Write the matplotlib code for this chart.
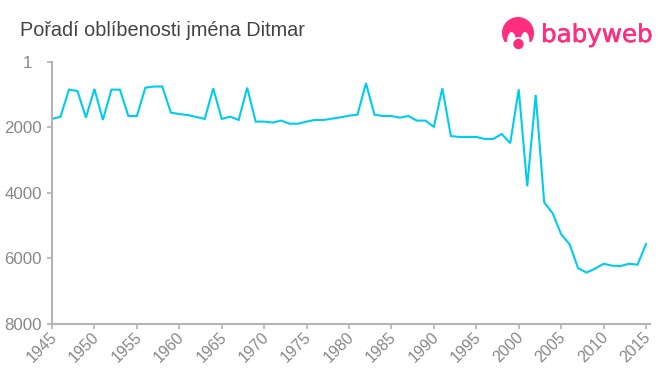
import matplotlib
matplotlib.use("Agg")
import matplotlib.pyplot as plt
from matplotlib.patches import Circle, Ellipse, Rectangle
from matplotlib.transforms import ScaledTranslation
import matplotlib.patheffects as pe

title = "Pořadí oblíbenosti jména Ditmar"
years = list(range(1945, 2016))
ranks = [1740, 1670, 845, 885, 1700, 825, 1770, 845, 845, 1650,
         1650, 785, 750, 750, 1545, 1590, 1620, 1680, 1740, 805,
         1740, 1670, 1770, 785, 1820, 1820, 1850, 1790, 1885, 1885,
         1820, 1770, 1770, 1730, 1690, 1640, 1610, 650, 1610, 1650,
         1650, 1700, 1650, 1790, 1790, 1980, 805, 2260, 2290, 2290,
         2290, 2350, 2350, 2200, 2480, 835, 3795, 1007, 4285, 4620,
         5260, 5570, 6300, 6430, 6310, 6160, 6220, 6230, 6160, 6190,
         5560]
y_ticks = [1, 2000, 4000, 6000, 8000]
x_ticks = list(range(1945, 2016, 5))

W, H = 660, 375
plt.rcParams["font.family"] = ["Liberation Sans", "DejaVu Sans"]
fig = plt.figure(figsize=(W / 100, H / 100), dpi=100)
left, right, top, bottom = 52, 650, 62, 324
ax = fig.add_axes([left / W, 1 - bottom / H, (right - left) / W, (bottom - top) / H])
ax.plot(years, ranks, color="#00ccee", lw=1.5, solid_joinstyle="miter")
ax.set_xlim(1945, 1945 + (right - left) / 8.486)
ax.set_ylim(8000, 1)
for s in ("top", "right"):
    ax.spines[s].set_visible(False)
for s in ("left", "bottom"):
    ax.spines[s].set_color("#b3b3b3")
    ax.spines[s].set_linewidth(1.5)
ax.set_yticks(y_ticks)
ax.set_yticklabels([str(v) for v in y_ticks])
ax.set_xticks(x_ticks)
ax.set_xticklabels([str(v) for v in x_ticks], rotation=45, ha="right", rotation_mode="anchor")
ax.tick_params(axis="both", color="#b3b3b3", width=1.2, length=3.3, labelcolor="#888888", labelsize=12.2)
ax.tick_params(axis="y", pad=4)
ax.tick_params(axis="x", labelsize=11.4, pad=2.7)
shift = ScaledTranslation(-3 / 100, 3 / 100, fig.dpi_scale_trans)
for lab in ax.get_xticklabels():
    lab.set_transform(lab.get_transform() + shift)
first = ax.get_yticklabels()[0]
first.set_transform(first.get_transform() + ScaledTranslation(-10 / 100, 0, fig.dpi_scale_trans))

fig.text(20 / W, 1 - 31 / H, title, fontsize=14.3, color="#444444", va="center", ha="left")

# logo in pixel coordinates
ov = fig.add_axes([0, 0, 1, 1], facecolor="none")
ov.set_xlim(0, W)
ov.set_ylim(H, 0)
ov.axis("off")
pink = "#ff2d7e"
ov.add_patch(Circle((518, 33), 16, color=pink, lw=0))
ov.add_patch(Rectangle((500, 42), 37, 9, color="white", lw=0))
ov.add_patch(Ellipse((511.5, 42), 9, 20, color="white", lw=0))
ov.add_patch(Ellipse((525, 42), 9, 20, color="white", lw=0))
ov.add_patch(Ellipse((518.5, 45), 15, 16, color="white", lw=0))
ov.add_patch(Circle((518.5, 44), 5.2, color=pink, lw=0))
logo = ov.text(541, 42, "babyweb", fontsize=17.7, color=pink, family="DejaVu Sans", va="baseline", ha="left")
logo.set_path_effects([pe.withStroke(linewidth=0.4, foreground=pink)])

fig.savefig("out.png", dpi=100)
